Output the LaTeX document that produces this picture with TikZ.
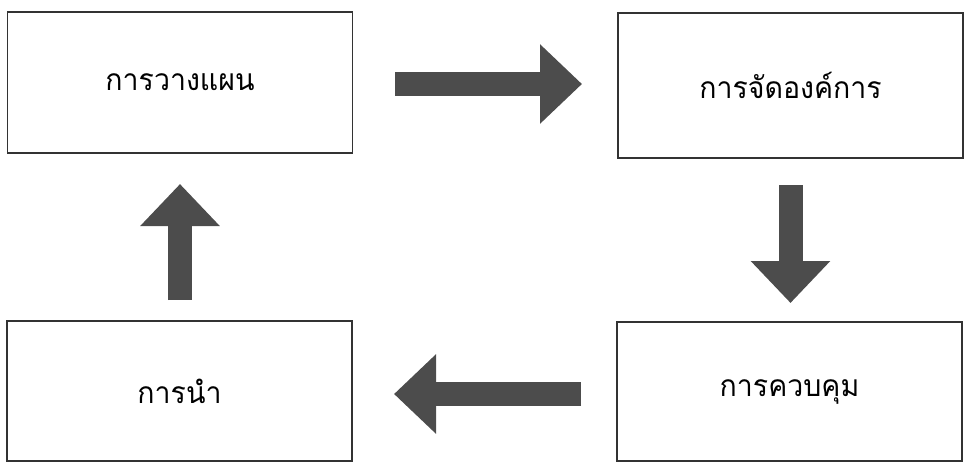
\documentclass[tikz,border=0pt]{standalone}
\usepackage{fontspec}
\newfontfamily\thaifont[Script=Thai,FakeStretch=0.95]{Loma}
\usetikzlibrary{arrows.meta}

\begin{document}
\begin{tikzpicture}[x=0.5pt,y=-0.5pt,line join=miter,
  stagebox/.style={draw=black!80,line width=0.8pt,rectangle,inner sep=0pt,
    minimum width=172.5pt,font=\thaifont\fontsize{15}{18}\selectfont},
  flowarrow/.style={draw=black!70,line width=12pt,
    -{Triangle[width=38.5pt,length=21pt,fill=black!70]}}]
  \useasboundingbox (0,0) rectangle (964,463);
  % the four stages
  \node[stagebox,minimum height=70.5pt] (plan) at (180,82.5) {การวางแผน};
  \node[stagebox,minimum height=72.5pt] (organize) at (790.5,85.5) {การจัดองค์การ};
  \node[stagebox,minimum height=69.5pt] (control) at (789.5,391.5) {การควบคุม};
  \node[stagebox,minimum height=70pt] (lead) at (179.5,391) {การนำ};
  % block arrows between the stages
  \coordinate (a1s) at (395,84);   \coordinate (a1e) at (582,84);
  \coordinate (a2s) at (790.5,185); \coordinate (a2e) at (790.5,303);
  \coordinate (a3s) at (581,394);  \coordinate (a3e) at (394,394);
  \coordinate (a4s) at (180,300);  \coordinate (a4e) at (180,184);
  \draw[flowarrow] (a1s) -- (a1e);
  \draw[flowarrow] (a2s) -- (a2e);
  \draw[flowarrow] (a3s) -- (a3e);
  \draw[flowarrow] (a4s) -- (a4e);
\end{tikzpicture}
\end{document}
